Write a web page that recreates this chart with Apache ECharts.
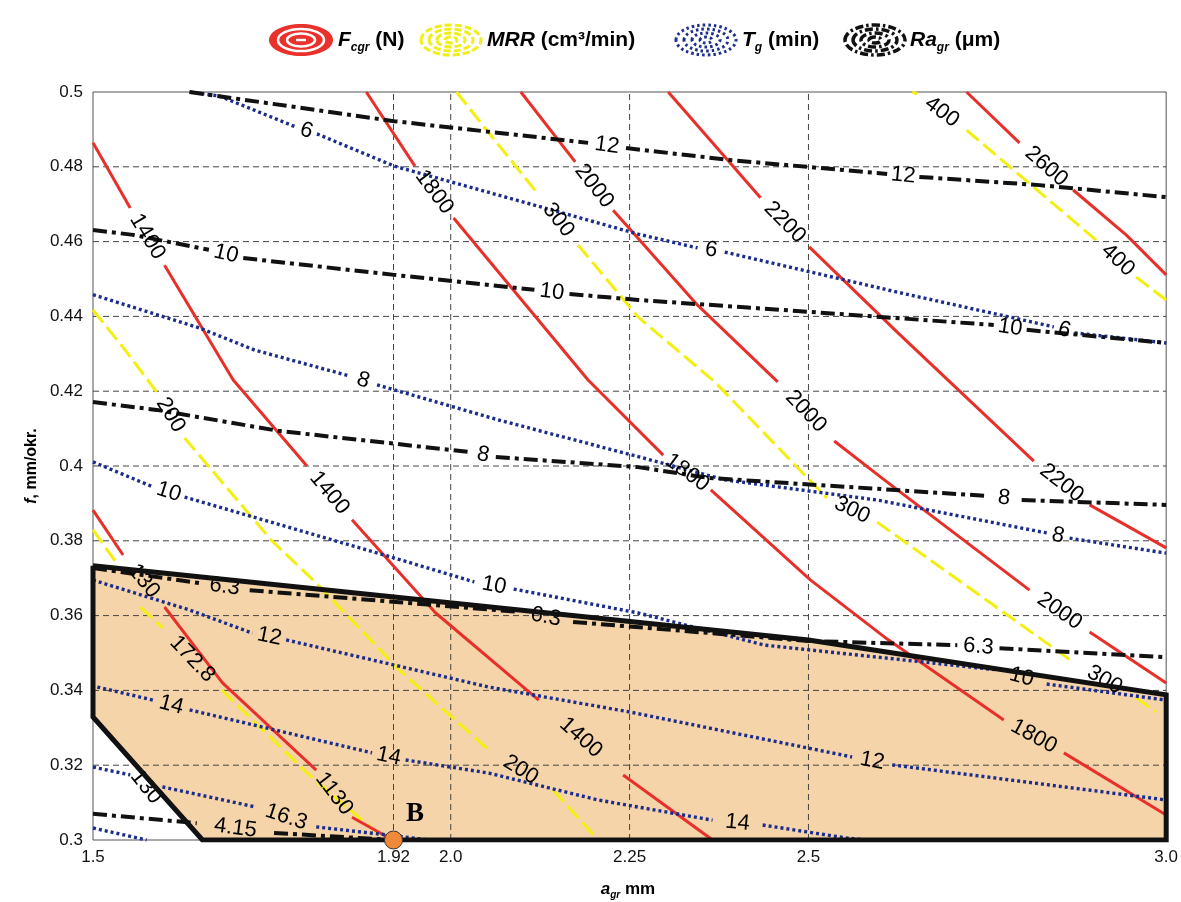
<!DOCTYPE html>
<html><head><meta charset="utf-8">
<script src="https://cdn.jsdelivr.net/npm/echarts@6/dist/echarts.min.js"></script>
<style>html,body{margin:0;padding:0;background:#fff}#c{width:1181px;height:902px}</style>
</head><body><div id="c"></div>
<script>
// ---------- axes ----------
const xTicks = [1.5, 1.92, 2.0, 2.25, 2.5, 3.0];
const xTickLabels = ['1.5', '1.92', '2.0', '2.25', '2.5', '3.0'];
const xGrid = [1.92, 2.0, 2.25, 2.5];
const yGrid = [0.32, 0.34, 0.36, 0.38, 0.40, 0.42, 0.44, 0.46, 0.48];

// ---------- contour lines (segments separated by label gaps) ----------
// F_cgr (N) - red
const forceLines = [
  { labels: ['130', '1130'], segs: [
    [[1.5, 0.3882], [1.542, 0.3762]],
    [[1.600, 0.3623], [1.681, 0.3420], [1.812, 0.3187]],
    [[1.862, 0.3061], [1.919, 0.3000]] ] },
  { labels: ['1400', '1400', '1400'], segs: [
    [[1.5, 0.4864], [1.552, 0.4690]],
    [[1.600, 0.4537], [1.696, 0.4230], [1.799, 0.4000]],
    [[1.862, 0.3856], [1.979, 0.3607], [2.123, 0.3374]],
    [[2.241, 0.3174], [2.366, 0.3000]] ] },
  { labels: ['1800', '1800', '1800'], segs: [
    [[1.882, 0.5], [1.950, 0.4802]],
    [[2.004, 0.4663], [2.192, 0.4230], [2.297, 0.4029]],
    [[2.3635, 0.3936], [2.503, 0.3695], [2.606, 0.3543], [2.773, 0.3321]],
    [[2.857, 0.3233], [3.0, 0.3067]] ] },
  { labels: ['2000', '2000', '2000'], segs: [
    [[2.098, 0.5], [2.174, 0.4813]],
    [[2.227, 0.4684], [2.345, 0.4430], [2.457, 0.4225]],
    [[2.536, 0.4067], [2.606, 0.3963], [2.809, 0.3668]],
    [[2.893, 0.3556], [3.0, 0.3420]] ] },
  { labels: ['2200', '2200'], segs: [
    [[2.304, 0.5], [2.433, 0.4717]],
    [[2.501, 0.4586], [2.624, 0.4358], [2.815, 0.4013]],
    [[2.893, 0.3896], [3.0, 0.3781]] ] },
  { labels: ['2600'], segs: [
    [[2.721, 0.5], [2.795, 0.4864]],
    [[2.870, 0.4738], [2.944, 0.4618], [3.0, 0.4511]] ] }
];
// MRR (cm3/min) - yellow
const mrrLines = [
  { labels: ['', '172.8'], segs: [
    [[1.5, 0.3829], [1.535, 0.3735]],
    [[1.566, 0.3623], [1.5975, 0.3567]],
    [[1.680, 0.3401], [1.802, 0.3174], [1.904, 0.3008], [1.914, 0.3]] ] },
  { labels: ['200', '200'], segs: [
    [[1.5, 0.4417], [1.545, 0.4310], [1.589, 0.4198]],
    [[1.628, 0.4075], [1.749, 0.3802], [1.812, 0.3687], [1.928, 0.3455], [2.053, 0.3241]],
    [[2.143, 0.3134], [2.206, 0.3]] ] },
  { labels: ['300', '300', '300'], segs: [
    [[2.008, 0.5], [2.067, 0.4858], [2.123, 0.4725]],
    [[2.178, 0.4591], [2.262, 0.4398], [2.369, 0.4225], [2.526, 0.3914]],
    [[2.596, 0.3850], [2.733, 0.3663], [2.870, 0.3476]],
    [[2.958, 0.3380], [2.986, 0.3342]] ] },
  { labels: ['400', '400'], segs: [
    [[2.645, 0.5], [2.652, 0.4995]],
    [[2.721, 0.4898], [2.907, 0.4596]],
    [[2.958, 0.4505], [3.0, 0.4444]] ] }
];
// T_g (min) - blue dotted
const tgLines = [
  { labels: ['6', '6', '6'], segs: [
    [[1.635, 0.5], [1.677, 0.4989], [1.784, 0.4906]],
    [[1.813, 0.4888], [1.921, 0.4802], [2.131, 0.4690], [2.262, 0.4620], [2.345, 0.4583]],
    [[2.383, 0.4572], [2.624, 0.4465], [2.843, 0.4372]],
    [[2.872, 0.4356], [3.0, 0.4329]] ] },
  { labels: ['8', '8'], segs: [
    [[1.5, 0.4458], [1.649, 0.4369], [1.726, 0.4310], [1.858, 0.4241]],
    [[1.897, 0.4217], [2.067, 0.4123], [2.262, 0.4025], [2.383, 0.3963], [2.596, 0.3909], [2.833, 0.3821]],
    [[2.865, 0.3807], [3.0, 0.3767]] ] },
  { labels: ['10', '10', '10'], segs: [
    [[1.5, 0.4011], [1.584, 0.3944]],
    [[1.628, 0.3917], [1.916, 0.3757], [2.033, 0.3690]],
    [[2.088, 0.3671], [2.262, 0.3607], [2.439, 0.3521], [2.763, 0.3455]],
    [[2.833, 0.3417], [3.0, 0.3374]] ] },
  { labels: ['12', '12'], segs: [
    [[1.5, 0.3695], [1.635, 0.3615], [1.723, 0.3553]],
    [[1.770, 0.3535], [2.053, 0.3409], [2.251, 0.3342], [2.561, 0.3222]],
    [[2.617, 0.3201], [3.0, 0.3107]] ] },
  { labels: ['14', '14', '14'], segs: [
    [[1.506, 0.3409], [1.584, 0.3374]],
    [[1.635, 0.3348], [1.890, 0.3233]],
    [[1.937, 0.3214], [2.053, 0.3179], [2.206, 0.3107], [2.366, 0.3053]],
    [[2.436, 0.3040], [2.554, 0.3005], [2.582, 0.3]] ] },
  { labels: ['', '16.3'], segs: [
    [[1.5, 0.3195], [1.552, 0.3174]],
    [[1.597, 0.3142], [1.728, 0.3088]],
    [[1.812, 0.3035], [1.914, 0.3013], [1.969, 0.3]] ] },
  { labels: [], segs: [
    [[1.5, 0.3032], [1.575, 0.3]] ] }
];
// Ra_gr (um) - black dash-dot
const raLines = [
  { labels: ['12', '12'], segs: [
    [[1.635, 0.5], [1.921, 0.4922], [2.192, 0.4864]],
    [[2.245, 0.4850], [2.391, 0.4818], [2.503, 0.4799], [2.610, 0.4781]],
    [[2.655, 0.4773], [2.823, 0.4751], [3.0, 0.4719]] ] },
  { labels: ['10', '10', '10'], segs: [
    [[1.5, 0.4631], [1.556, 0.4618], [1.662, 0.4578]],
    [[1.710, 0.4556], [1.921, 0.4511], [2.117, 0.4471]],
    [[2.166, 0.4460], [2.262, 0.4444], [2.503, 0.4412], [2.759, 0.4377]],
    [[2.805, 0.4364], [3.0, 0.4329]] ] },
  { labels: ['8', '8'], segs: [
    [[1.5, 0.4171], [1.589, 0.4150], [1.759, 0.4094], [2.028, 0.4037]],
    [[2.063, 0.4024], [2.262, 0.3997], [2.361, 0.3968], [2.749, 0.3920]],
    [[2.798, 0.3909], [3.0, 0.3896]] ] },
  { labels: ['6.3', '6.3', '6.3'], segs: [
    [[1.5, 0.3727], [1.649, 0.3687]],
    [[1.719, 0.3668], [2.095, 0.3610]],
    [[2.171, 0.3583], [2.5, 0.3532], [2.708, 0.3521]],
    [[2.767, 0.3513], [3.0, 0.3489]] ] },
  { labels: ['4.15'], segs: [
    [[1.5, 0.3070], [1.645, 0.3045]],
    [[1.753, 0.3019], [1.919, 0.3]] ] }
];
// feasible region and optimum point
const region = [[1.5, 0.3733], [1.5, 0.3329], [1.653, 0.3], [3.0, 0.3], [3.0, 0.3388], [2.5, 0.3535], [1.5, 0.3733]];
const pointB = [1.92, 0.3];
const strayLabels = [{ text: '130', at: [1.574, 0.3142] }];

// ---------- drawing ----------
const F = "'Liberation Sans', Arial, sans-serif";
const chart = echarts.init(document.getElementById('c'), null, { renderer: 'canvas' });

function segData(lines) {
  const d = [];
  lines.forEach(l => l.segs.forEach(s => d.push({ coords: s })));
  return d;
}
function linesSeries(id, lines, style, z) {
  return { id, type: 'lines', coordinateSystem: 'cartesian2d', polyline: true, silent: true,
    data: segData(lines), lineStyle: Object.assign({ opacity: 1, cap: 'butt', join: 'round' }, style), z, animation: false };
}
const gridData = [
  ...xGrid.map(x => ({ coords: [[x, 0.3], [x, 0.5]] })),
  ...yGrid.map(y => ({ coords: [[1.5, y], [3.0, y]] }))
];

function legendIcon(cx, cy, kind) {
  const ch = [];
  if (kind === 'red') {
    ch.push({ type: 'ellipse', shape: { cx, cy, rx: 32, ry: 16 }, style: { fill: '#e8322b' } });
    ch.push({ type: 'ellipse', shape: { cx, cy, rx: 23, ry: 11 }, style: { fill: 'none', stroke: '#fff', lineWidth: 2.5 } });
    ch.push({ type: 'ellipse', shape: { cx, cy, rx: 14, ry: 6.5 }, style: { fill: 'none', stroke: '#fff', lineWidth: 2.5 } });
    ch.push({ type: 'rect', shape: { x: cx - 5, y: cy - 1.2, width: 10, height: 2.4 }, style: { fill: '#fff' } });
  } else {
    const col = kind === 'yellow' ? '#f2ee1a' : kind === 'blue' ? '#1d2f8f' : '#111';
    const dash = kind === 'yellow' ? [7, 3] : kind === 'blue' ? [2.5, 3] : [8, 3, 2.5, 3];
    const lw = kind === 'black' ? 3.5 : 3;
    [[30, 15], [22, 11], [14, 7], [6, 3]].forEach(r => {
      ch.push({ type: 'ellipse', shape: { cx, cy, rx: r[0], ry: r[1] }, style: { fill: 'none', stroke: col, lineWidth: lw, lineDash: dash } });
    });
  }
  return ch;
}
const richBase = {
  i: { fontStyle: 'italic', fontWeight: 'bold', fontSize: 21, lineHeight: 27, verticalAlign: 'middle', fontFamily: F, color: '#111' },
  s: { fontStyle: 'italic', fontWeight: 'bold', fontSize: 12, lineHeight: 12, verticalAlign: 'bottom', fontFamily: F, color: '#111' },
  n: { fontWeight: 'bold', fontSize: 21, lineHeight: 27, verticalAlign: 'middle', fontFamily: F, color: '#111' }
};
function legendText(x, y, text) {
  return { type: 'text', x, y, style: { text, rich: richBase, textVerticalAlign: 'middle', textAlign: 'left' } };
}

const graphics = [
  ...legendIcon(301, 40, 'red'), legendText(338, 40, '{i|F}{s|cgr}{n| (N)}'),
  ...legendIcon(451, 40, 'yellow'), legendText(487, 40, '{i|MRR}{n| (cm³/min)}'),
  ...legendIcon(706, 40, 'blue'), legendText(742, 40, '{i|T}{s|g}{n| (min)}'),
  ...legendIcon(875, 40, 'black'), legendText(910, 40, '{i|Ra}{s|gr}{n| (μm)}'),
  { type: 'text', x: 32, y: 466, rotation: Math.PI / 2,
    style: { text: '{a|f}{b|, mm/okr.}', textAlign: 'center', textVerticalAlign: 'middle',
      rich: { a: { fontStyle: 'italic', fontWeight: 'bold', fontSize: 16, fontFamily: F, color: '#111' },
              b: { fontWeight: 'bold', fontSize: 16, fontFamily: F, color: '#111' } } } },
  { type: 'text', x: 628, y: 889,
    style: { text: '{a|a}{s|gr}{b| mm}', textAlign: 'center', textVerticalAlign: 'middle',
      rich: { a: { fontStyle: 'italic', fontWeight: 'bold', fontSize: 17, lineHeight: 22, verticalAlign: 'middle', fontFamily: F, color: '#111' },
              s: { fontStyle: 'italic', fontWeight: 'bold', fontSize: 10, lineHeight: 10, verticalAlign: 'bottom', fontFamily: F, color: '#111' },
              b: { fontWeight: 'bold', fontSize: 17, lineHeight: 22, verticalAlign: 'middle', fontFamily: F, color: '#111' } } } }
];

const option = {
  animation: false,
  backgroundColor: '#fff',
  grid: { left: 93, right: 11, top: 92, bottom: 62, show: true, borderColor: '#555', borderWidth: 1, backgroundColor: '#fff' },
  xAxis: { type: 'value', min: 1.5, max: 3.0, splitLine: { show: false }, axisLine: { show: false }, axisTick: { show: false },
    axisLabel: { customValues: xTicks, fontSize: 17, color: '#111', fontFamily: F, margin: 9,
      formatter: v => { const i = xTicks.findIndex(t => Math.abs(t - v) < 1e-6); return i >= 0 ? xTickLabels[i] : ''; } } },
  yAxis: { type: 'value', min: 0.3, max: 0.5, interval: 0.02, splitLine: { show: false }, axisLine: { show: false }, axisTick: { show: false },
    axisLabel: { fontSize: 17, color: '#111', fontFamily: F, margin: 10, formatter: v => String(+v.toFixed(2)) } },
  graphic: graphics,
  series: [
    { id: 'fill', type: 'custom', coordinateSystem: 'cartesian2d', silent: true, z: 1, data: [[1.5, 0.3]],
      renderItem: (p, api) => ({ type: 'polygon', shape: { points: region.map(q => api.coord(q)) }, style: { fill: '#f6d4a9' } }) },
    { id: 'grid', type: 'lines', coordinateSystem: 'cartesian2d', polyline: true, silent: true, z: 2, data: gridData,
      lineStyle: { color: '#444', width: 1, type: [6, 4], opacity: 1 } },
    linesSeries('mrr', mrrLines, { color: '#f4ef12', width: 3, type: [16, 6] }, 3),
    linesSeries('force', forceLines, { color: '#e8302a', width: 3, type: 'solid' }, 4),
    linesSeries('tg', tgLines, { color: '#1b2d8c', width: 3.4, type: [3, 3] }, 5),
    linesSeries('ra', raLines, { color: '#111', width: 4, type: [14, 5, 4, 5] }, 6),
    { id: 'labels', type: 'custom', coordinateSystem: 'cartesian2d', silent: true, z: 7, data: [],
      renderItem: (p, api) => {
        const c = api.coord([api.value(0), api.value(1)]);
        const d = p.context.items ? null : null;
        const item = labelItems[p.dataIndex];
        return { type: 'text', x: c[0], y: c[1], rotation: item.rot * Math.PI / 180,
          style: { text: item.text, fill: '#000', font: "22px 'Liberation Sans', Arial, sans-serif", align: 'center', verticalAlign: 'middle' } };
      } },
    { id: 'border', type: 'lines', coordinateSystem: 'cartesian2d', polyline: true, silent: true, z: 8,
      data: [{ coords: region }], lineStyle: { color: '#111', width: 5, type: 'solid', opacity: 1, join: 'miter' } },
    { id: 'B', type: 'scatter', z: 9, silent: true, data: [pointB], symbolSize: 18,
      itemStyle: { color: '#f08a3a', borderColor: '#333', borderWidth: 1, opacity: 1 },
      label: { show: true, formatter: 'B', position: [22, -30], fontSize: 27, fontWeight: 'bold', color: '#000',
        fontFamily: "'Liberation Serif', 'DejaVu Serif', serif" } }
  ]
};
let labelItems = [];
chart.setOption(option);

function angleOf(a, b) {
  const pa = chart.convertToPixel({ gridIndex: 0 }, a), pb = chart.convertToPixel({ gridIndex: 0 }, b);
  return -Math.atan2(pb[1] - pa[1], pb[0] - pa[0]) * 180 / Math.PI;
}
function buildLabels() {
  const items = [];
  [forceLines, mrrLines, tgLines, raLines].forEach(g => g.forEach(l => {
    for (let k = 0; k < l.segs.length - 1; k++) {
      const t = l.labels[k];
      if (!t) continue;
      const a = l.segs[k][l.segs[k].length - 1], b = l.segs[k + 1][0];
      items.push({ text: t, pos: [(a[0] + b[0]) / 2, (a[1] + b[1]) / 2], rot: angleOf(a, b) });
    }
  }));
  const ref = forceLines[0];
  const rot = angleOf(ref.segs[0][ref.segs[0].length - 1], ref.segs[1][0]);
  strayLabels.forEach(s => items.push({ text: s.text, pos: s.at, rot }));
  return items;
}
labelItems = buildLabels();
chart.setOption({ series: [{ id: 'labels', data: labelItems.map(it => it.pos) }] });
</script>
</body></html>
